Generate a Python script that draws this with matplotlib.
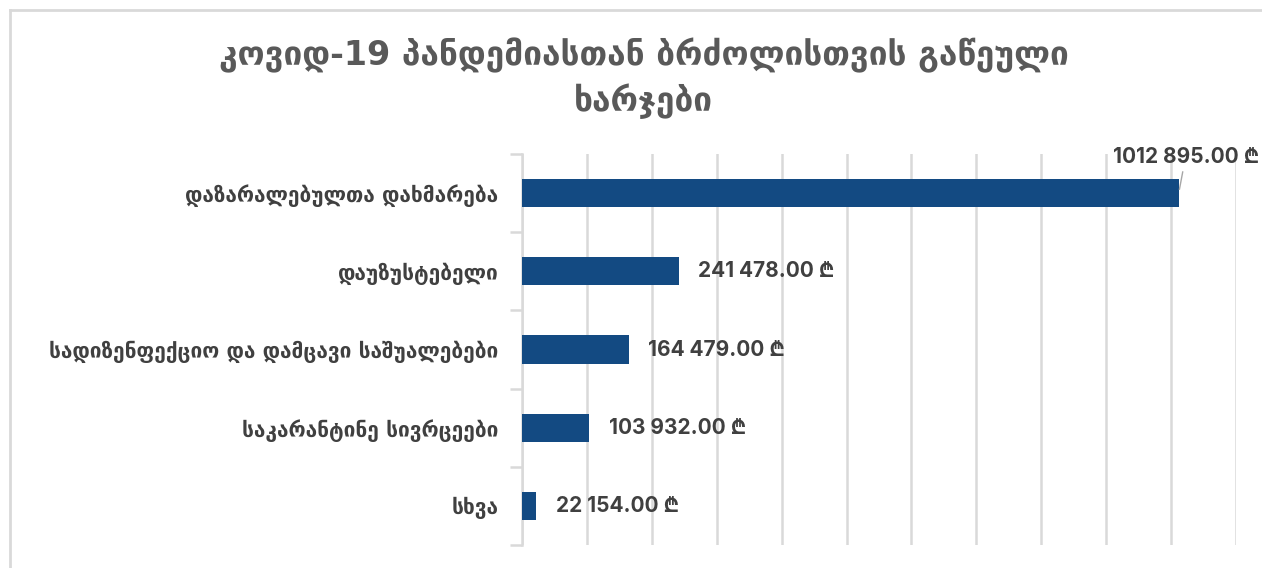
import numpy as np
import matplotlib.pyplot as plt
from matplotlib.lines import Line2D

# datos del grafico
categorias = ['დაზარალებულთა დახმარება', 'დაუზუსტებელი',
              'სადიზენფექციო და დამცავი საშუალებები',
              'საკარანტინე სივრცეები', 'სხვა']
valores = [1012895.00, 241478.00, 164479.00, 103932.00, 22154.00]
etiquetas = ['1012 895.00 ₾', '241 478.00 ₾', '164 479.00 ₾',
             '103 932.00 ₾', '22 154.00 ₾']
titulo = 'კოვიდ-19 პანდემიასთან ბრძოლისთვის გაწეული\nხარჯები'

plt.rcParams['font.family'] = ['DejaVu Sans', 'Inter']
gris_texto = '#404040'
gris_linea = '#d9d9d9'
azul = '#134a82'

fig = plt.figure(figsize=(12.62, 5.68), dpi=100)
ax = fig.add_axes([522/1262, 23/568, 714/1262, 391/568])

y = np.arange(len(categorias))
ax.barh(y, valores, height=0.36, color=azul, zorder=3)

ax.set_xlim(0, 1100000)
ax.set_ylim(len(categorias) - 0.5, -0.5)
ax.set_xticks(np.arange(0, 1100001, 100000))
ax.xaxis.grid(True, color=gris_linea, linewidth=1.8, zorder=0)
ax.tick_params(axis='x', length=0, labelbottom=False)

ax.set_yticks(y)
ax.set_yticklabels(categorias, fontsize=15, fontweight='bold', color=gris_texto)
ax.set_yticks(np.arange(-0.5, len(categorias)), minor=True)
ax.tick_params(axis='y', which='major', length=0, pad=17)
ax.tick_params(axis='y', which='minor', length=9, width=1.8, color=gris_linea)

for lado in ['top', 'right', 'bottom']:
    ax.spines[lado].set_visible(False)
ax.spines['left'].set_color(gris_linea)
ax.spines['left'].set_linewidth(1.8)

# etiquetas de valor
for i, (v, txt) in enumerate(zip(valores, etiquetas)):
    if i == 0:
        # etiqueta encima de la barra con linea guia
        ax.text(v - 103000, i - 0.46, txt, fontsize=15, fontweight='bold',
                color=gris_texto, ha='left', va='center', family=['Inter'])
        ax.plot([v, v + 5000], [i - 0.05, i - 0.27], color='#a6a6a6',
                lw=1, zorder=4, clip_on=False)
    else:
        ax.text(v + 30000, i, txt, fontsize=15, fontweight='bold',
                color=gris_texto, ha='left', va='center', family=['Inter'])

fig.text(0.51, 0.862, titulo, ha='center', va='center', fontsize=24,
         fontweight='bold', color='#595959', linespacing=1.35)

# marco gris del grafico
fig.add_artist(Line2D([10/1262, 1], [1 - 10/568, 1 - 10/568],
                      color=gris_linea, linewidth=2, transform=fig.transFigure))
fig.add_artist(Line2D([10/1262, 10/1262], [0, 1 - 10/568],
                      color=gris_linea, linewidth=2, transform=fig.transFigure))

fig.savefig('out.png', dpi=100, facecolor='white')
